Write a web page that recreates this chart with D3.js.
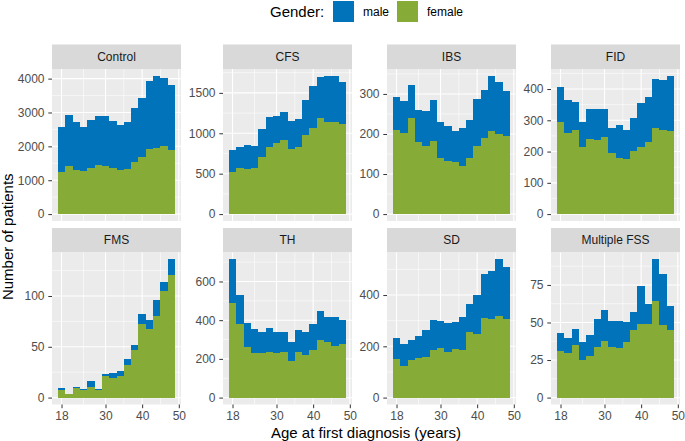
<!DOCTYPE html>
<html>
<head>
<meta charset="utf-8">
<script src="https://cdn.jsdelivr.net/npm/d3@7"></script>
<style>
  html, body { margin: 0; padding: 0; background: #ffffff; }
  svg { display: block; font-family: "Liberation Sans", Arial, Helvetica, sans-serif; }
</style>
</head>
<body>
<svg id="chart" width="685" height="441"></svg>
<script>
// ---------- data ----------
const panelNames = ["Control", "CFS", "IBS", "FID", "FMS", "TH", "SD", "Multiple FSS"];
const ageBins = [18, 20, 22, 24, 26, 28, 30, 32, 34, 36, 38, 40, 42, 44, 46, 48];
const xTickLabels = [18, 30, 40, 50];
const genders = ["male", "female"];

const femaleControl = [1240, 1430, 1310, 1270, 1370, 1460, 1420, 1350, 1310, 1340, 1530, 1690, 1920, 1950, 2010, 1880];
const maleControl   = [1340, 1510, 1410, 1310, 1420, 1430, 1470, 1400, 1310, 1390, 1590, 1730, 2020, 2130, 2020, 1930];

const femaleCFS = [520, 570, 555, 575, 710, 830, 885, 915, 810, 835, 975, 1070, 1190, 1135, 1140, 1110];
const maleCFS   = [270, 255, 300, 265, 340, 370, 330, 350, 340, 340, 435, 520, 510, 570, 570, 525];

const femaleIBS = [211, 203, 240, 180, 171, 182, 140, 133, 131, 119, 139, 171, 189, 208, 199, 196];
const maleIBS   = [82, 79, 83, 79, 86, 104, 89, 86, 77, 95, 96, 116, 120, 137, 131, 112];

const femaleFID = [296, 259, 270, 216, 239, 236, 247, 195, 181, 176, 202, 216, 232, 276, 270, 265];
const maleFID   = [112, 106, 87, 77, 98, 99, 89, 80, 104, 92, 106, 139, 144, 156, 159, 177];

const femaleFMS = [7, 4, 9, 7, 10, 7, 21, 19, 21, 32, 47, 72, 68, 80, 105, 121];
const maleFMS   = [2, 0, 1, 1, 6, 1, 2, 5, 5, 6, 5, 10, 8, 16, 9, 15];

const femaleTH = [490, 379, 262, 231, 231, 238, 231, 236, 188, 236, 219, 245, 297, 288, 267, 278];
const maleTH   = [224, 149, 122, 124, 109, 121, 110, 104, 100, 111, 122, 133, 150, 131, 147, 124];

const femaleSD = [152, 125, 146, 155, 160, 184, 193, 177, 188, 184, 254, 249, 311, 308, 318, 308];
const maleSD   = [79, 83, 78, 87, 104, 117, 105, 115, 105, 130, 110, 152, 172, 185, 221, 203];

const femaleMFSS = [31, 30, 35, 25, 28, 34, 38, 34, 33, 37, 45, 49, 49, 64, 48, 45];
const maleMFSS   = [12, 10, 11, 12, 14, 18, 20, 17, 18, 13, 12, 25, 13, 28, 34, 16];

const yTicksControl = [0, 1000, 2000, 3000, 4000];
const yTicksCFS = [0, 500, 1000, 1500];
const yTicksIBS = [0, 100, 200, 300];
const yTicksFID = [0, 100, 200, 300, 400];
const yTicksFMS = [0, 50, 100];
const yTicksTH = [0, 200, 400, 600];
const yTicksSD = [0, 200, 400];
const yTicksMFSS = [0, 25, 50, 75];

// table built from the arrays above
const panelData = [
  { name: panelNames[0], female: femaleControl, male: maleControl, ticks: yTicksControl },
  { name: panelNames[1], female: femaleCFS, male: maleCFS, ticks: yTicksCFS },
  { name: panelNames[2], female: femaleIBS, male: maleIBS, ticks: yTicksIBS },
  { name: panelNames[3], female: femaleFID, male: maleFID, ticks: yTicksFID },
  { name: panelNames[4], female: femaleFMS, male: maleFMS, ticks: yTicksFMS },
  { name: panelNames[5], female: femaleTH, male: maleTH, ticks: yTicksTH },
  { name: panelNames[6], female: femaleSD, male: maleSD, ticks: yTicksSD },
  { name: panelNames[7], female: femaleMFSS, male: maleMFSS, ticks: yTicksMFSS }
];

// ---------- style / layout ----------
const colors = { male: "#0073BA", female: "#86AB37" };
const binWidth = 2;
const colLeft = [52, 223, 387, 551];
const panelW = 129;
const stripTop = [44.5, 228];
const stripH = 24.5;
const panelH = 152;
const tickLen = 3.7;

const svg = d3.select("#chart");

// shared x scale domain (ggplot 5% expansion of bin range)
const xMin = ageBins[0] - binWidth / 2, xMax = ageBins[ageBins.length - 1] + binWidth / 2;
const xPad = (xMax - xMin) * 0.05;
const xDomain = [xMin - xPad, xMax + xPad];

function minorBreaks(ticks, domain) {
  const step = ticks[1] - ticks[0];
  const out = [];
  for (let v = ticks[0] - step / 2; v <= ticks[ticks.length - 1] + step / 2 + 1e-9; v += step) {
    if (v >= domain[0] && v <= domain[1]) out.push(v);
  }
  return out;
}
function minorBreaksIrregular(ticks, domain) {
  const ext = [ticks[0] - (ticks[1] - ticks[0])].concat(ticks, [ticks[ticks.length - 1] + (ticks[ticks.length - 1] - ticks[ticks.length - 2])]);
  const out = [];
  for (let i = 0; i < ext.length - 1; i++) {
    const m = (ext[i] + ext[i + 1]) / 2;
    if (m >= domain[0] && m <= domain[1]) out.push(m);
  }
  return out;
}

panelData.forEach((p, i) => {
  const col = i % 4, row = Math.floor(i / 4);
  const left = colLeft[col];
  const sTop = stripTop[row];
  const pTop = sTop + stripH;
  const pBot = pTop + panelH;

  const totals = p.female.map((f, k) => f + p.male[k]);
  const maxT = d3.max(totals);
  const yDomain = [-0.05 * maxT, maxT * 1.05];

  const x = d3.scaleLinear().domain(xDomain).range([left, left + panelW]);
  const y = d3.scaleLinear().domain(yDomain).range([pBot, pTop]);

  const g = svg.append("g");

  // strip
  g.append("rect").attr("x", left).attr("y", sTop).attr("width", panelW).attr("height", stripH).attr("fill", "#D9D9D9");
  g.append("text").attr("x", left + panelW / 2).attr("y", sTop + stripH / 2 + 4.2)
    .attr("text-anchor", "middle").attr("font-size", 12).attr("fill", "#1A1A1A").text(p.name);

  // panel background
  g.append("rect").attr("x", left).attr("y", pTop).attr("width", panelW).attr("height", panelH).attr("fill", "#EBEBEB");

  // grid lines
  const yMinor = minorBreaks(p.ticks, yDomain);
  const xMinor = minorBreaksIrregular(xTickLabels, xDomain);
  g.selectAll(".ymin").data(yMinor).join("line")
    .attr("x1", left).attr("x2", left + panelW).attr("y1", d => y(d)).attr("y2", d => y(d))
    .attr("stroke", "#fff").attr("stroke-width", 0.55);
  g.selectAll(".xmin").data(xMinor).join("line")
    .attr("y1", pTop).attr("y2", pBot).attr("x1", d => x(d)).attr("x2", d => x(d))
    .attr("stroke", "#fff").attr("stroke-width", 0.55);
  g.selectAll(".ymaj").data(p.ticks).join("line")
    .attr("x1", left).attr("x2", left + panelW).attr("y1", d => y(d)).attr("y2", d => y(d))
    .attr("stroke", "#fff").attr("stroke-width", 1.1);
  g.selectAll(".xmaj").data(xTickLabels.filter(d => d >= xDomain[0] && d <= xDomain[1])).join("line")
    .attr("y1", pTop).attr("y2", pBot).attr("x1", d => x(d)).attr("x2", d => x(d))
    .attr("stroke", "#fff").attr("stroke-width", 1.1);

  // stacked bars: female at bottom, male on top
  const rows = ageBins.map((a, k) => ({ age: a, female: p.female[k], male: p.male[k] }));
  const stack = d3.stack().keys(["female", "male"])(rows);
  stack.forEach(layer => {
    g.append("g").attr("fill", colors[layer.key]).attr("shape-rendering", "crispEdges")
      .selectAll("rect").data(layer).join("rect")
      .attr("x", d => x(d.data.age - binWidth / 2))
      .attr("width", d => x(d.data.age + binWidth / 2) - x(d.data.age - binWidth / 2))
      .attr("y", d => y(d[1]))
      .attr("height", d => Math.max(0, y(d[0]) - y(d[1])));
  });

  // y axis
  const ya = g.append("g").attr("transform", `translate(${left},0)`)
    .call(d3.axisLeft(y).tickValues(p.ticks).tickSize(tickLen).tickPadding(3.8).tickFormat(d3.format("d")));
  ya.select(".domain").remove();
  ya.selectAll(".tick line").attr("stroke", "#333333").attr("stroke-width", 1);
  ya.selectAll(".tick text").attr("font-size", 12).attr("fill", "#4D4D4D").attr("font-family", null);

  // x axis (bottom row only)
  if (row === 1) {
    const xa = g.append("g").attr("transform", `translate(0,${pBot})`)
      .call(d3.axisBottom(x).tickValues(xTickLabels).tickSize(tickLen).tickPadding(3));
    xa.select(".domain").remove();
    xa.selectAll(".tick line").attr("stroke", "#333333").attr("stroke-width", 1);
    xa.selectAll(".tick text").attr("font-size", 12).attr("fill", "#4D4D4D").attr("font-family", null);
  }
});

// axis titles
const panelsLeft = colLeft[0], panelsRight = colLeft[3] + panelW;
svg.append("text").attr("x", (panelsLeft + panelsRight) / 2).attr("y", 438)
  .attr("text-anchor", "middle").attr("font-size", 15).attr("fill", "#000")
  .text("Age at first diagnosis (years)");
const yTitleCenter = (stripTop[0] + stripH + stripTop[1] + stripH + panelH) / 2;
svg.append("text").attr("transform", `translate(12.5,${yTitleCenter}) rotate(-90)`)
  .attr("text-anchor", "middle").attr("font-size", 15).attr("fill", "#000")
  .text("Number of patients");

// legend
const lg = svg.append("g");
lg.append("text").attr("x", 270).attr("y", 17).attr("font-size", 15).attr("fill", "#000").text("Gender:");
const keyX = { male: 333, female: 397 };
genders.forEach(gd => {
  lg.append("rect").attr("x", keyX[gd]).attr("y", 1).attr("width", 21).attr("height", 21).attr("fill", colors[gd]);
  lg.append("text").attr("x", keyX[gd] + 30).attr("y", 16.3).attr("font-size", 12).attr("fill", "#000").text(gd);
});
</script>
</body>
</html>
